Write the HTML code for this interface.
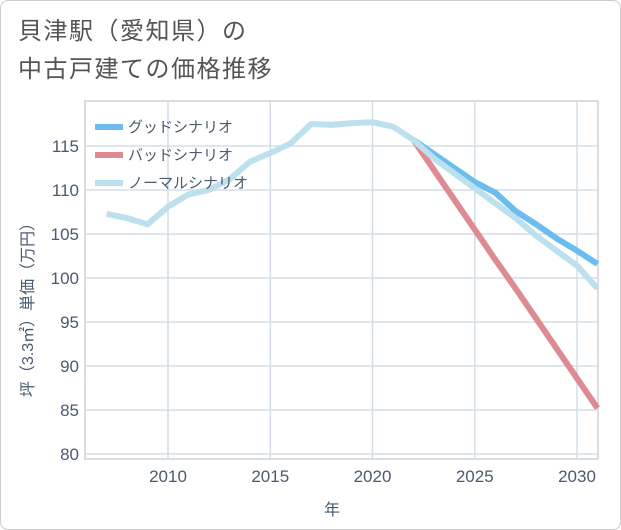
<!DOCTYPE html>
<html><head><meta charset="utf-8"><style>
body{margin:0;background:#fff;font-family:"Liberation Sans","Noto Sans CJK JP",sans-serif;}
#wrap{position:relative;width:619px;height:528px;border:1px solid #ccc;border-radius:8px;overflow:hidden;}
.title{position:absolute;left:17px;font-size:24px;color:#555;letter-spacing:1.5px;line-height:30px;}
</style></head><body>
<div id="wrap">
<div class="title" style="top:16px">貝津駅（愛知県）の</div>
<div class="title" style="top:54px">中古戸建ての価格推移</div>
<svg id="chart" width="621" height="530" style="position:absolute;left:0;top:0"></svg>
</div>
<script>
const years=[2007,2008,2009,2010,2011,2012,2013,2014,2015,2016,2017,2018,2019,2020,2021,2022];
const history=[107.3,106.8,106.1,108.1,109.5,110.0,111.2,113.2,114.2,115.3,117.5,117.4,117.6,117.7,117.2,115.7];
const futureYears=[2022,2023,2024,2025,2026,2027,2028,2029,2030,2031];
const good=[115.7,114.1,112.5,110.9,109.7,107.6,106.1,104.5,103.1,101.6];
const normal=[115.7,113.6,111.9,110.2,108.5,106.8,104.8,103.1,101.4,98.8];
const bad=[115.7,112.3,108.9,105.5,102.1,98.8,95.4,92.0,88.6,85.2];
const xTicks=[2010,2015,2020,2025,2030];
const yTicks=[80,85,90,95,100,105,110,115];
const NS="http://www.w3.org/2000/svg";
const svg=document.getElementById('chart');
const L=84,R=597,T=100,B=458;
const X=y=>167+(y-2010)*(576-167)/20;
const Y=v=>453-(v-80)*8.8;
function mk(t,a){const e=document.createElementNS(NS,t);for(const k in a)e.setAttribute(k,a[k]);svg.appendChild(e);return e;}
const frame=mk('rect',{x:L,y:T,width:R-L,height:B-T,fill:'none',stroke:'#bbb'});


xTicks.forEach(t=>{
 const g=mk('line',{x1:X(t),x2:X(t),y1:T,y2:B,stroke:'#d3dde8','stroke-width':1.5});
 
 
 const tx=mk('text',{x:X(t),y:481,'text-anchor':'middle','font-size':17,fill:'#4a5a70'});tx.textContent=t;
 
 
});
yTicks.forEach(t=>{
 const g=mk('line',{x1:L,x2:R,y1:Y(t),y2:Y(t),stroke:'#d3dde8','stroke-width':1.5});
 
 
 const tx=mk('text',{x:78,y:Y(t)+6,'text-anchor':'end','font-size':17,fill:'#4a5a70'});tx.textContent=t;
 
 
});
const xt=mk('text',{x:331,y:514,'text-anchor':'middle','font-size':16,fill:'#4a5a70'});xt.textContent='年';


const yt=mk('text',{x:0,y:0,'text-anchor':'middle','font-size':16,fill:'#4a5a70',transform:'translate(32,305) rotate(-90)'});yt.textContent='坪（3.3㎡）単価（万円）';


function line(xs,vs,c,name){
 const p=mk('polyline',{points:xs.map((x,i)=>X(x)+','+Y(vs[i])).join(' '),fill:'none',stroke:c,'stroke-width':6,'stroke-linejoin':'round'});
 
 
}
line(futureYears,bad,'#de8a92','bad-scenario-line');
line(futureYears,good,'#6bbdf0','good-scenario-line');
line(years.concat(futureYears.slice(1)),history.concat(normal.slice(1)),'#bde0ee','normal-scenario-line');
const leg=[['グッドシナリオ','#6bbdf0'],['バッドシナリオ','#de8a92'],['ノーマルシナリオ','#bde0ee']];
leg.forEach((l,i)=>{
 const y=126+i*28;
 const s=mk('line',{x1:94,x2:122,y1:y,y2:y,stroke:l[1],'stroke-width':6});
 
 
 const t=mk('text',{x:127,y:y+5,'font-size':15,fill:'#4a5a70'});t.textContent=l[0];
 
 
});
</script>
</body></html>
